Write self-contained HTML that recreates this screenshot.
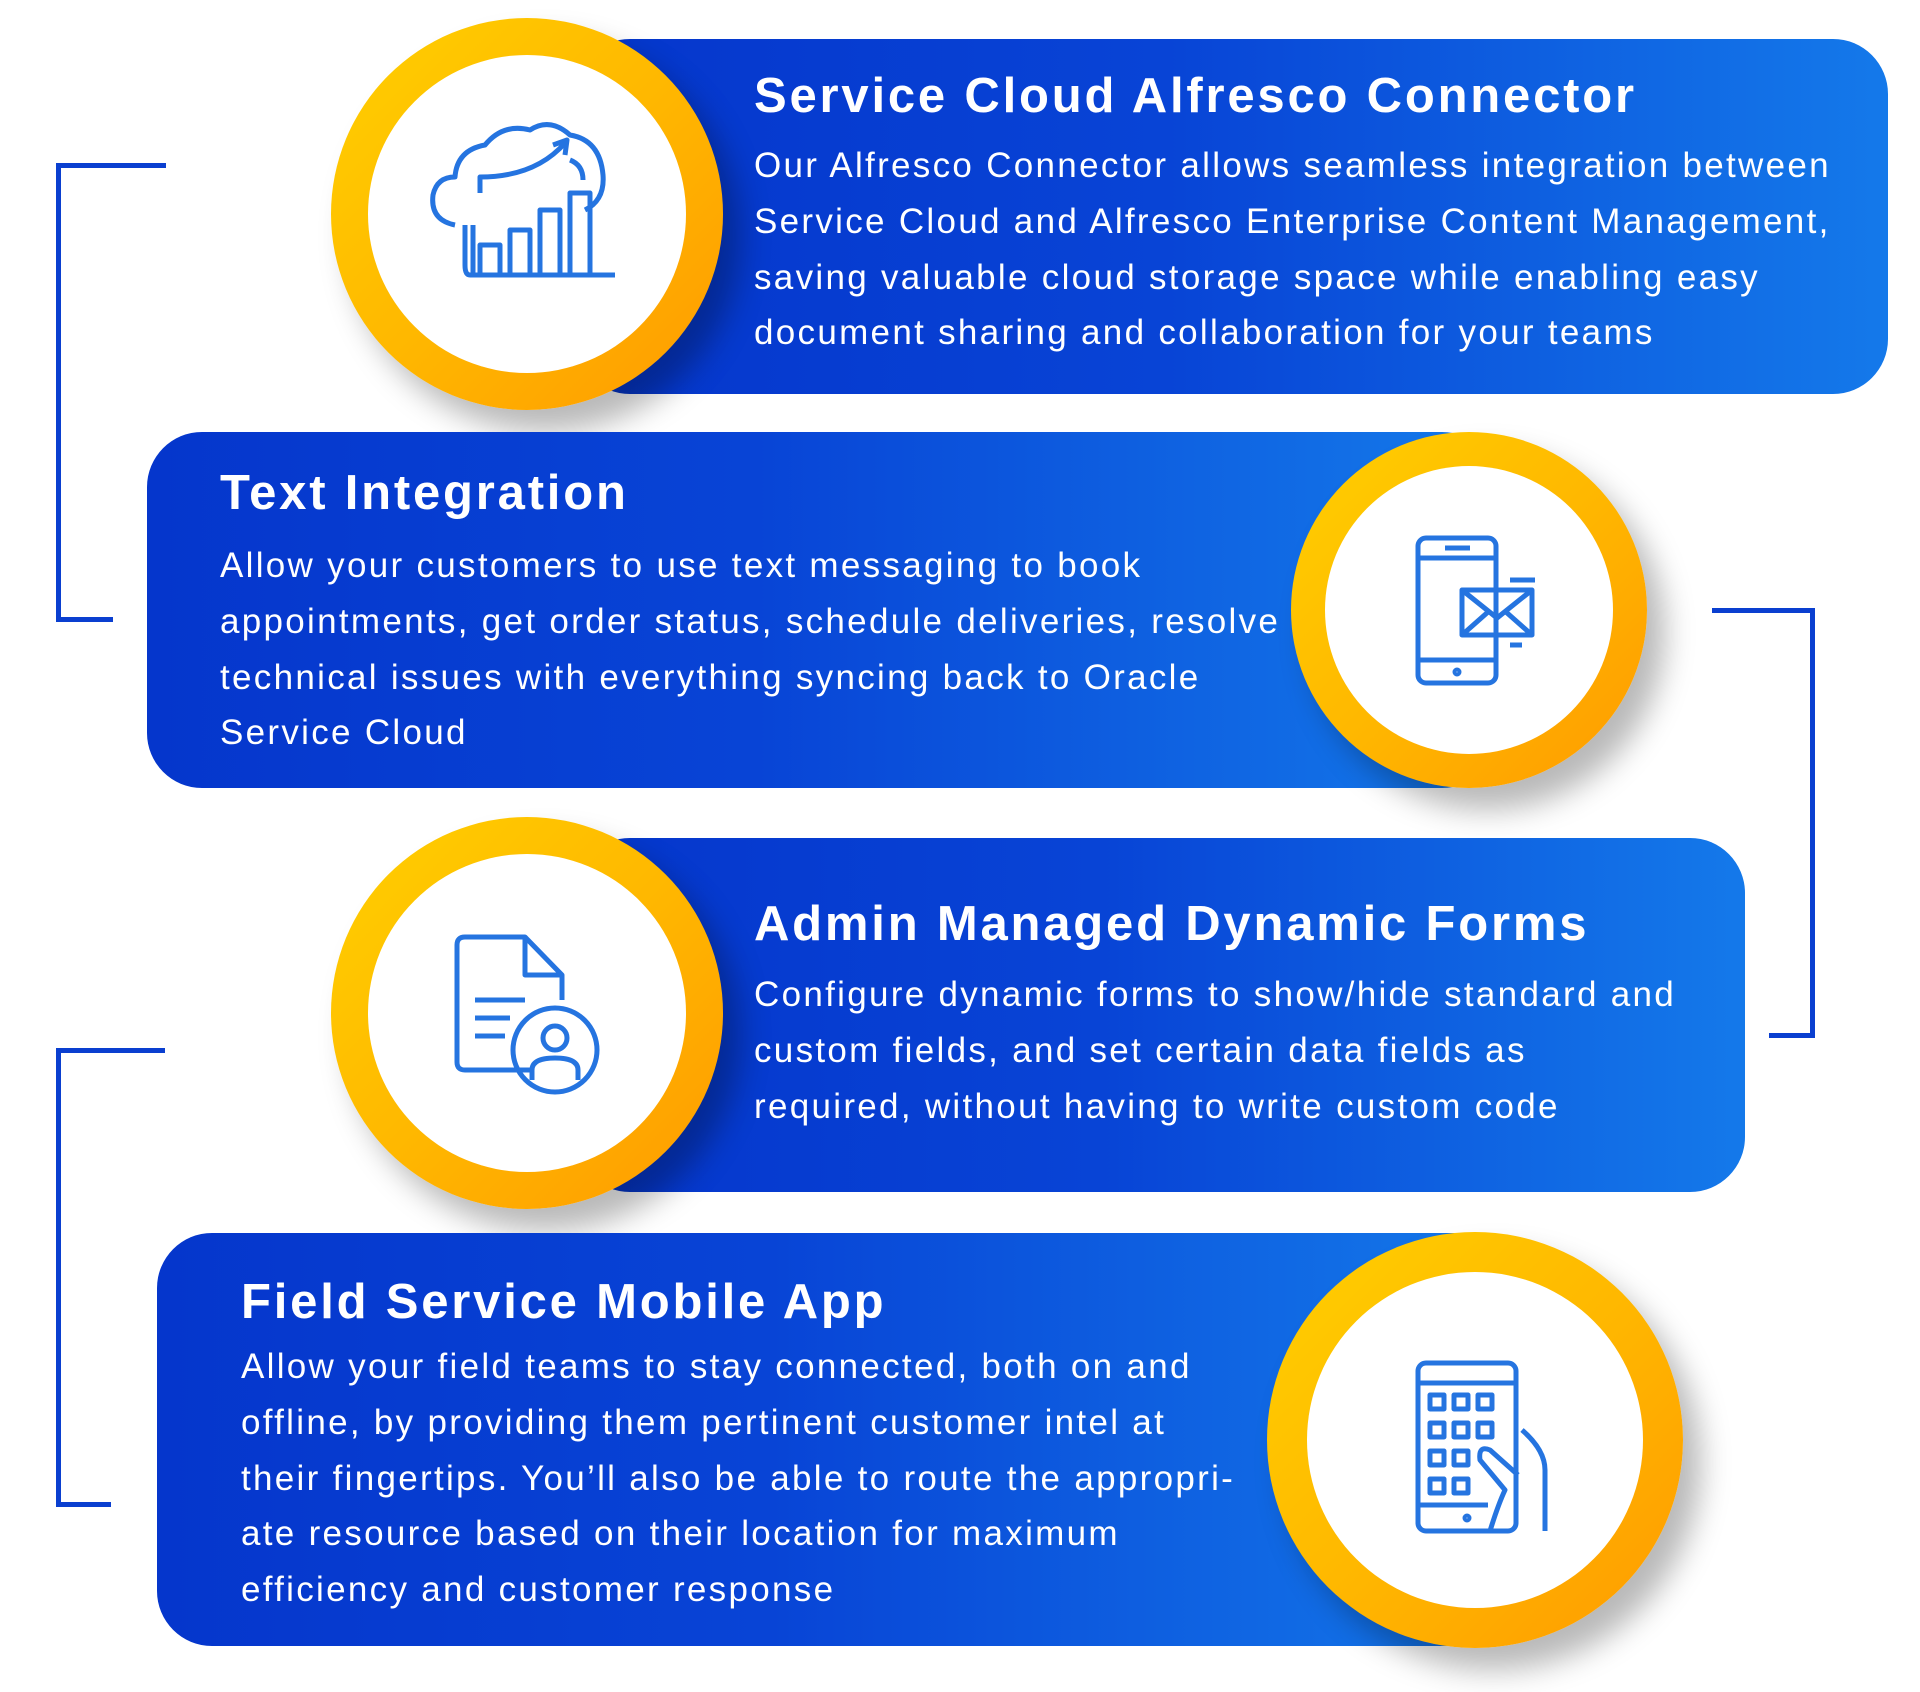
<!DOCTYPE html>
<html><head><meta charset="utf-8"><style>
html,body{margin:0;padding:0;}
body{width:1920px;height:1692px;background:#fff;position:relative;overflow:hidden;font-family:"Liberation Sans",sans-serif;}
.card{position:absolute;background:linear-gradient(90deg,#0536cc 0%,#0844d6 45%,#1479ea 100%);border-radius:55px;}
.ring{position:absolute;border-radius:50%;background:linear-gradient(135deg,#ffd000 0%,#ffb800 50%,#ff9a00 100%);box-shadow:18px 22px 30px rgba(0,0,0,0.28);}
.inner{position:absolute;border-radius:50%;background:#fff;}
.t{position:absolute;color:#fff;font-weight:bold;font-size:49px;letter-spacing:2.8px;white-space:nowrap;}
.b{position:absolute;color:#fff;font-size:35px;letter-spacing:2.3px;line-height:55.8px;white-space:nowrap;}
.br{position:absolute;background:#0a3fd0;}
svg{position:absolute;}
</style></head><body>

<div class="br" style="left:56px;top:163px;width:5px;height:459px"></div>
<div class="br" style="left:56px;top:163px;width:110px;height:5px"></div>
<div class="br" style="left:56px;top:617px;width:57px;height:5px"></div>

<div class="br" style="left:1810px;top:608px;width:5px;height:430px"></div>
<div class="br" style="left:1712px;top:608px;width:103px;height:5px"></div>
<div class="br" style="left:1769px;top:1033px;width:46px;height:5px"></div>

<div class="br" style="left:56px;top:1048px;width:5px;height:459px"></div>
<div class="br" style="left:56px;top:1048px;width:109px;height:5px"></div>
<div class="br" style="left:56px;top:1502px;width:55px;height:5px"></div>

<!-- card 1 -->
<div class="card" style="left:575px;top:39px;width:1313px;height:355px"></div>
<div class="ring" style="left:331px;top:18px;width:392px;height:392px"></div>
<div class="inner" style="left:368px;top:55px;width:318px;height:318px"></div>
<svg style="left:425px;top:115px" width="200" height="170" viewBox="0 0 200 170" fill="none" stroke="#2574e0" stroke-width="5" stroke-linejoin="round">
<path d="M30 110 Q5 105 8 80 Q12 62 30 62 Q32 35 60 30 Q78 8 105 15 Q125 2 145 20 Q175 25 178 60 Q180 85 160 95"/>
<path d="M145 45 Q158 50 158 65"/>
<path d="M48 160 V110 M190 160 H45 Q40 160 40 150 V110"/>
<rect x="55" y="130" width="20" height="30"/><rect x="85" y="115" width="20" height="45"/><rect x="115" y="95" width="20" height="65"/><rect x="145" y="78" width="20" height="82"/>
<path d="M55 78 V62 Q110 62 140 28 M128 30 L142 25 L140 40"/>
</svg>
<div class="t" style="left:754px;top:68px">Service Cloud Alfresco Connector</div>
<div class="b" style="left:754px;top:138px">Our Alfresco Connector allows seamless integration between<br>Service Cloud and Alfresco Enterprise Content Management,<br>saving valuable cloud storage space while enabling easy<br>document sharing and collaboration for your teams</div>

<!-- card 2 -->
<div class="card" style="left:147px;top:432px;width:1350px;height:356px"></div>
<div class="ring" style="left:1291px;top:432px;width:356px;height:356px"></div>
<div class="inner" style="left:1325px;top:466px;width:288px;height:288px"></div>
<svg style="left:1410px;top:530px" width="130" height="160" viewBox="0 0 130 160" fill="none" stroke="#2574e0" stroke-width="5" stroke-linejoin="round">
<rect x="8" y="8" width="78" height="145" rx="8"/><path d="M8 28 H86 M8 130 H86 M35 18 H60"/><circle cx="47" cy="142" r="2"/>
<rect x="52" y="60" width="70" height="45"/><path d="M52 60 L87 88 L122 60 M52 105 L78 82 M122 105 L96 82"/>
<path d="M100 50 H125 M100 115 H112"/>
</svg>
<div class="t" style="left:220px;top:465px">Text Integration</div>
<div class="b" style="left:220px;top:538px">Allow your customers to use text messaging to book<br>appointments, get order status, schedule deliveries, resolve<br>technical issues with everything syncing back to Oracle<br>Service Cloud</div>

<!-- card 3 -->
<div class="card" style="left:575px;top:838px;width:1170px;height:354px"></div>
<div class="ring" style="left:331px;top:817px;width:392px;height:392px"></div>
<div class="inner" style="left:368px;top:854px;width:318px;height:318px"></div>
<svg style="left:450px;top:930px" width="160" height="170" viewBox="0 0 160 170" fill="none" stroke="#2574e0" stroke-width="5" stroke-linejoin="round">
<path d="M80 140 H15 Q7 140 7 132 V15 Q7 7 15 7 H75 L112 45 V70"/><path d="M75 7 V45 H112"/>
<path d="M25 70 H75 M25 88 H60 M25 106 H55"/>
<circle cx="105" cy="120" r="42"/><circle cx="105" cy="108" r="12"/><path d="M82 150 V140 Q82 128 105 128 Q128 128 128 140 V150"/>
</svg>
<div class="t" style="left:754px;top:896px">Admin Managed Dynamic Forms</div>
<div class="b" style="left:754px;top:967px">Configure dynamic forms to show/hide standard and<br>custom fields, and set certain data fields as<br>required, without having to write custom code</div>

<!-- card 4 -->
<div class="card" style="left:157px;top:1233px;width:1360px;height:413px"></div>
<div class="ring" style="left:1267px;top:1232px;width:416px;height:416px"></div>
<div class="inner" style="left:1307px;top:1272px;width:336px;height:336px"></div>
<svg style="left:1410px;top:1355px" width="150" height="180" viewBox="0 0 150 180" fill="none" stroke="#2574e0" stroke-width="5" stroke-linejoin="round">
<rect x="8" y="8" width="98" height="168" rx="8"/><path d="M8 28 H106 M8 150 H78"/><circle cx="57" cy="163" r="2"/>
<rect x="20" y="40" width="14" height="14"/><rect x="44" y="40" width="14" height="14"/><rect x="68" y="40" width="14" height="14"/>
<rect x="20" y="68" width="14" height="14"/><rect x="44" y="68" width="14" height="14"/><rect x="68" y="68" width="14" height="14"/>
<rect x="20" y="96" width="14" height="14"/><rect x="44" y="96" width="14" height="14"/>
<rect x="20" y="124" width="14" height="14"/><rect x="44" y="124" width="14" height="14"/>
<path d="M112 75 Q135 95 135 115 V176 M108 120 L80 95 Q68 90 70 105 L95 135 Q88 150 80 176"/>
</svg>
<div class="t" style="left:241px;top:1274px">Field Service Mobile App</div>
<div class="b" style="left:241px;top:1339px">Allow your field teams to stay connected, both on and<br>offline, by providing them pertinent customer intel at<br>their fingertips. You’ll also be able to route the appropri-<br>ate resource based on their location for maximum<br>efficiency and customer response</div>

</body></html>
